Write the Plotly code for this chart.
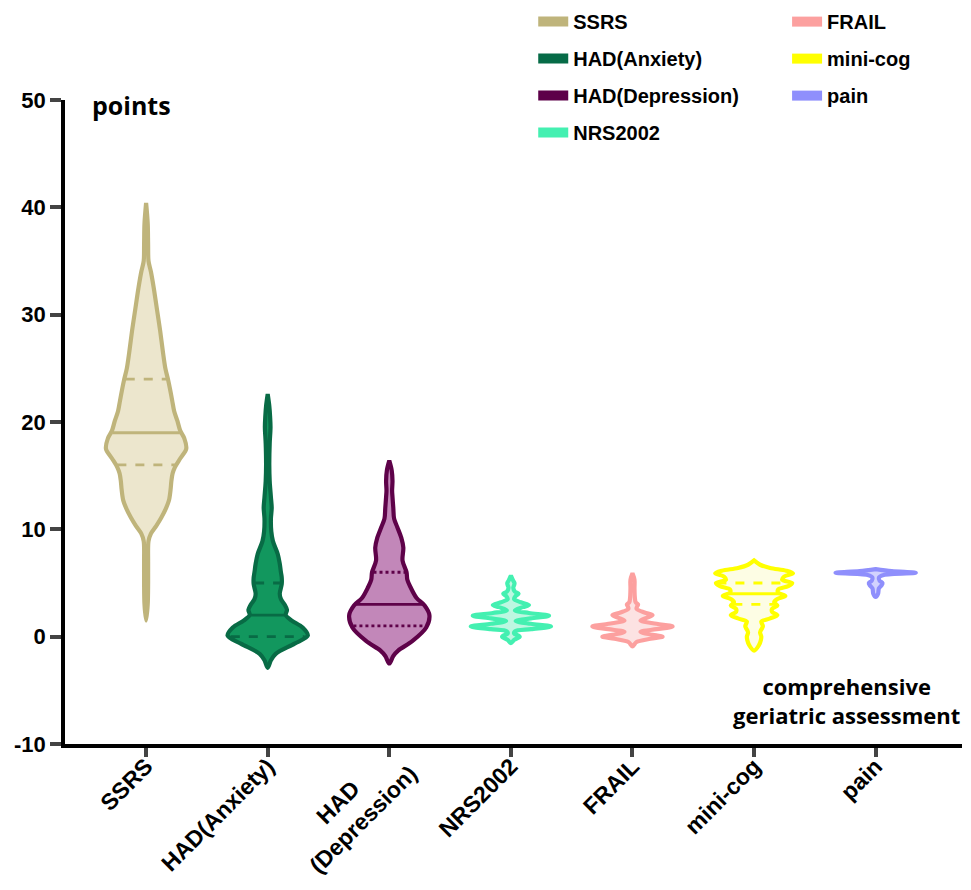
import numpy as np
import plotly.graph_objects as go

categories = ["SSRS", "HAD(Anxiety)", "HAD(Depression)", "NRS2002", "FRAIL", "mini-cog", "pain"]
tick_labels = ["SSRS", "HAD(Anxiety)", "HAD<br>(Depression)", "NRS2002", "FRAIL", "mini-cog", "pain"]
y_tick_vals = [-10, 0, 10, 20, 30, 40, 50]
y_tick_text = ["-10", "0", "10", "20", "30", "40", "50"]

# density profiles: (score level, relative density 0..1)
ssrs_y = [1.5, 3, 5, 7, 8.9, 9.6, 10.3, 11.1, 12.0, 12.7, 13.7, 14.5, 15.2, 15.8, 16.6, 17.5, 18.5, 19.2,
          20.1, 21, 22, 23, 23.9, 25, 26.5, 28.5, 30.5, 32.5, 34, 35, 36.5, 38.5, 40.4]
ssrs_d = [0.0, 0.04, 0.05, 0.05, 0.06, 0.12, 0.25, 0.38, 0.5, 0.57, 0.61, 0.63, 0.66, 0.72, 0.85, 1.0, 0.95, 0.85,
          0.78, 0.7, 0.65, 0.6, 0.55, 0.48, 0.42, 0.35, 0.27, 0.19, 0.12, 0.06, 0.05, 0.04, 0.0]

anx_y = [-2.9, -2.2, -1.6, -0.65, 0.1, 0.85, 1.5, 2.0, 2.5, 3.0, 3.5, 4.0, 4.9, 5.5, 6.0, 6.8, 7.7, 8.9, 9.8,
         11, 12, 13, 14.5, 16, 18, 19.5, 20.5, 21.5, 22.6]
anx_d = [0.0, 0.08, 0.2, 0.67, 1.0, 0.87, 0.6, 0.45, 0.48, 0.42, 0.33, 0.3, 0.35, 0.35, 0.33, 0.3, 0.25, 0.13, 0.09,
         0.08, 0.1, 0.08, 0.05, 0.04, 0.05, 0.07, 0.06, 0.04, 0.0]

dep_y = [-2.5, -1.8, -1.3, -0.4, 0.85, 2.0, 2.9, 3.6, 4.6, 5.3, 6.0, 7.1, 8.3, 9.2, 10.2, 11, 12, 13, 13.6,
         14.5, 15.5, 16.4]
dep_d = [0.0, 0.1, 0.22, 0.58, 0.92, 1.0, 0.88, 0.68, 0.53, 0.45, 0.43, 0.33, 0.35, 0.3, 0.2, 0.12, 0.1, 0.08, 0.07,
         0.08, 0.06, 0.0]

nrs_y = [-0.6, -0.3, 0.0, 0.3, 0.5, 0.7, 0.95, 1.2, 1.45, 1.7, 1.95, 2.2, 2.45, 2.75, 2.95, 3.2, 3.5, 3.8, 4.0,
         4.2, 4.55, 4.8, 5.0, 5.2, 5.7]
nrs_d = [0.0, 0.08, 0.22, 0.08, 0.1, 0.5, 1.0, 0.5, 0.12, 0.5, 0.95, 0.45, 0.1, 0.3, 0.45, 0.25, 0.08, 0.12, 0.19,
         0.1, 0.06, 0.08, 0.09, 0.06, 0.0]

frail_y = [-0.9, -0.5, -0.2, 0.0, 0.2, 0.45, 0.7, 0.95, 1.2, 1.5, 1.75, 2.0, 2.25, 2.6, 2.85, 3.0, 3.2, 3.6, 4.5,
           5.3, 5.9]
frail_d = [0.0, 0.1, 0.45, 0.75, 0.45, 0.2, 0.6, 1.0, 0.6, 0.2, 0.35, 0.5, 0.3, 0.1, 0.12, 0.14, 0.08, 0.06, 0.05,
           0.05, 0.0]

cog_y = [-1.3, -0.8, -0.3, 0.0, 0.4, 0.8, 1.0, 1.4, 1.7, 2.0, 2.3, 2.6, 2.9, 3.2, 3.5, 3.8, 4.1, 4.4, 4.7, 5.0,
         5.3, 5.6, 5.9, 6.15, 6.4, 6.7, 7.1]
cog_d = [0.0, 0.12, 0.17, 0.18, 0.15, 0.2, 0.22, 0.18, 0.4, 0.58, 0.45, 0.45, 0.58, 0.5, 0.58, 0.78, 0.6, 0.6, 0.85,
         0.95, 0.7, 0.75, 0.97, 0.8, 0.4, 0.15, 0.0]

pain_y = [3.7, 4.0, 4.5, 4.8, 5.0, 5.2, 5.5, 5.75, 5.95, 6.1, 6.3]
pain_d = [0.0, 0.06, 0.08, 0.15, 0.17, 0.1, 0.08, 0.2, 1.0, 0.4, 0.0]

# quartiles (Q1, median, Q3); None where not visible
quartiles = [(16, 19, 24), (0, 2, 5), (1, 3, 6), None, None, (3, 4, 5), None]
quart_dash = ["dash", "dash", "dot", None, None, "dash", None]

line_colors = ["#BFB47B", "#086B45", "#5E0249", "#44F0B1", "#FCA09F", "#FFFF00", "#8F8FFC"]
fill_colors = ["#ECE6CD", "#12975E", "#C287B9", "#BDF7E1", "#FCE2E2", "#FDFDE4", "#D2D2FE"]
legend_colors = ["#BFB47B", "#066B47", "#5D0049", "#44F0B1", "#FCA09F", "#FFFF00", "#8F8FFC"]

profiles = [(ssrs_y, ssrs_d), (anx_y, anx_d), (dep_y, dep_d), (nrs_y, nrs_d),
            (frail_y, frail_d), (cog_y, cog_d), (pain_y, pain_d)]

HALF_MAX = 0.33  # max half-width of a violin in category units

fig = go.Figure()
for i, (name, (py, pd_)) in enumerate(zip(categories, profiles)):
    py = np.array(py, dtype=float)
    hw = np.array(pd_, dtype=float) * HALF_MAX
    xs = np.concatenate([i + hw, (i - hw)[::-1]])
    ys = np.concatenate([py, py[::-1]])
    fig.add_trace(go.Scatter(
        x=xs, y=ys, mode="lines", fill="toself", fillcolor=fill_colors[i],
        line=dict(color=line_colors[i], width=4.2, shape="spline", smoothing=0.9),
        showlegend=False, hoverinfo="skip"))
    if quartiles[i] is not None:
        for k, q in enumerate(quartiles[i]):
            w = float(np.interp(q, py, hw)) - 0.012
            fig.add_trace(go.Scatter(
                x=[i - w, i + w], y=[q, q], mode="lines",
                line=dict(color=line_colors[i], width=2.8,
                          dash="solid" if k == 1 else quart_dash[i]),
                showlegend=False, hoverinfo="skip"))

# legend entries
for i, name in enumerate(categories):
    fig.add_trace(go.Scatter(
        x=[None], y=[None], mode="lines", name=name,
        line=dict(color=legend_colors[i], width=13),
        legend="legend" if i < 4 else "legend2", legendgroup=name))

# the two-line label sits on an overlaid axis so that its lines can be placed like the original
multi = [i for i, t in enumerate(tick_labels) if "<br>" in t]
main_text = ["" if i in multi else t for i, t in enumerate(tick_labels)]
multi_text = [tick_labels[i].replace("<br>", "\u00a0" * 8 + "<br>", 1) for i in multi]
fig.add_trace(go.Scatter(x=[None], y=[None], xaxis="x2", showlegend=False, hoverinfo="skip"))

xcommon = dict(range=[-0.667, 6.71], tickangle=-45, tickfont=dict(size=23, weight="bold"),
               automargin=False, showgrid=False, zeroline=False)

# the page body has an 8px margin, so the figure is sized to fit inside the window
fig.update_layout(
    width=955, height=882, autosize=False,
    margin=dict(l=57, r=1, t=92, b=146, autoexpand=False),
    plot_bgcolor="white", paper_bgcolor="white",
    font=dict(family="Liberation Sans, Arial, sans-serif", color="black"),
    xaxis=dict(**xcommon, tickmode="array", tickvals=list(range(7)), ticktext=main_text,
               ticklabelstandoff=-13,
               showline=True, linewidth=3.5, linecolor="black", ticks="outside", ticklen=9, tickwidth=3.5),
    xaxis2=dict(**xcommon, overlaying="x", anchor="y", side="bottom", tickmode="array",
                tickvals=multi, ticktext=multi_text, ticklabelstandoff=-24,
                showline=False, ticks="outside", ticklen=9, tickwidth=3.5, tickcolor="rgba(0,0,0,0)"),
    yaxis=dict(range=[-10, 50], tickmode="array", tickvals=y_tick_vals, ticktext=y_tick_text,
               tickfont=dict(size=22, weight="bold"), automargin=False,
               showline=True, linewidth=3.5, linecolor="black", ticks="outside", ticklen=11, tickwidth=3.5,
               showgrid=False, zeroline=False),
    legend=dict(x=0.522, y=1.152, xanchor="left", yanchor="top", tracegroupgap=8,
                font=dict(size=20, weight="bold"), bgcolor="rgba(0,0,0,0)"),
    legend2=dict(x=0.805, y=1.152, xanchor="left", yanchor="top", tracegroupgap=8,
                 font=dict(size=20, weight="bold"), bgcolor="rgba(0,0,0,0)"),
    annotations=[
        dict(text="points", xref="paper", yref="paper", x=0.028, y=0.992, xanchor="left", yanchor="middle",
             showarrow=False, font=dict(family="Open Sans, sans-serif", size=25, weight="bold")),
        dict(text="comprehensive<br>geriatric assessment", xref="paper", yref="paper", x=0.8707, y=0.067,
             xanchor="center", yanchor="middle", showarrow=False,
             font=dict(family="Open Sans, sans-serif", size=22, weight="bold")),
    ],
)

fig.write_html("out.html")
